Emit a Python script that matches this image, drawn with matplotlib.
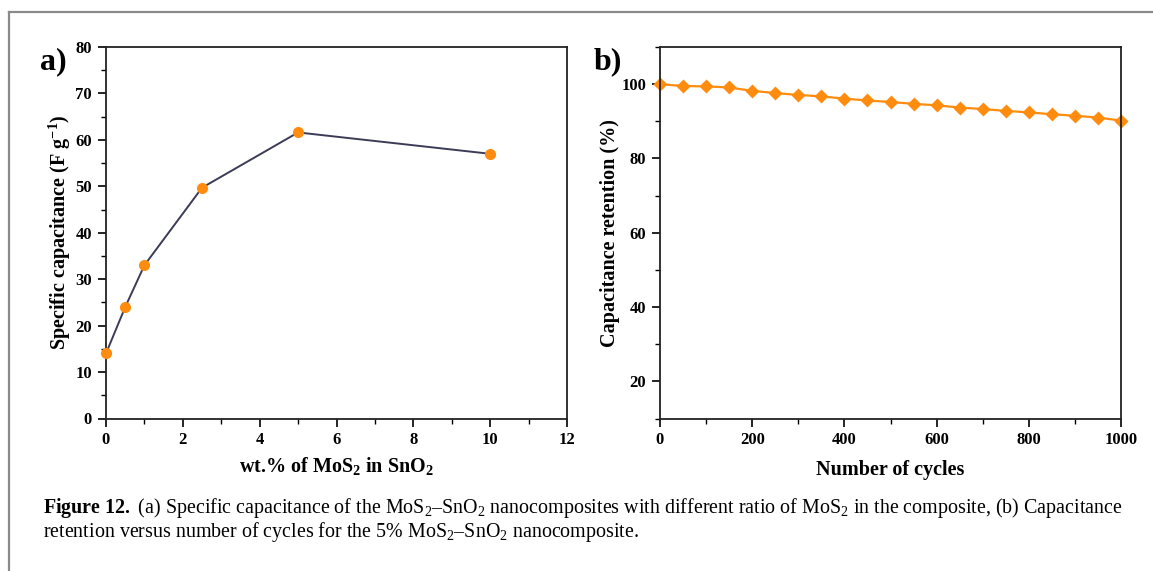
import matplotlib
matplotlib.use("Agg")
import matplotlib.pyplot as plt
from matplotlib.lines import Line2D
from matplotlib.ticker import MultipleLocator

plt.rcParams['font.family'] = 'Liberation Serif'
plt.rcParams['font.weight'] = 'bold'
plt.rcParams['mathtext.fontset'] = 'custom'
plt.rcParams['mathtext.rm'] = 'Liberation Serif:weight=normal'
plt.rcParams['mathtext.bf'] = 'Liberation Serif:weight=bold'
plt.rcParams['mathtext.it'] = 'Liberation Serif:italic'

# (a) specific capacitance vs MoS2 loading
wt_mos2 = [0, 0.5, 1, 2.5, 5, 10]
spec_cap = [14, 24, 33, 49.7, 61.6, 57]

# (b) capacitance retention vs cycles
cycles = [0, 50, 100, 150, 200, 250, 300, 350, 400, 450, 500,
          550, 600, 650, 700, 750, 800, 850, 900, 950, 1000]
retention = [100, 99.5, 99.4, 99.1, 98.2, 97.6, 97.1, 96.7, 96.1, 95.6, 95.2,
             94.7, 94.3, 93.7, 93.3, 92.8, 92.4, 91.9, 91.5, 91.0, 90.2]

orange = '#ff8c0f'
navy = '#3b3b58'

fig = plt.figure(figsize=(11.53, 5.71), dpi=100)

# page frame (top and left edges)
fig.add_artist(Line2D([9/1153, 9/1153], [0, 1 - 12/571], color='#8a8a8a', lw=1.6, transform=fig.transFigure))
fig.add_artist(Line2D([9/1153, 1], [1 - 12/571, 1 - 12/571], color='#8a8a8a', lw=1.6, transform=fig.transFigure))

ax1 = fig.add_axes([106/1153, 1 - 418.5/571, 461/1153, 371.5/571])
ax2 = fig.add_axes([660/1153, 1 - 418.5/571, 461/1153, 371.5/571])


def style(ax):
    for s in ax.spines.values():
        s.set_linewidth(1.3)
        s.set_color('#222222')
    ax.tick_params(which='major', direction='out', length=6, width=1.2, labelsize=12, pad=4)
    ax.tick_params(which='minor', direction='out', length=3.5, width=1.0)
    ax.tick_params(top=False, right=False, which='both')
    for lab in ax.get_xticklabels() + ax.get_yticklabels():
        lab.set_fontweight('bold')


ax1.plot(wt_mos2, spec_cap, color=navy, lw=1.4, zorder=2)
ax1.plot(wt_mos2, spec_cap, 'o', color=orange, ms=8, mec='none', zorder=3, clip_on=False)
ax1.set_xlim(0, 12)
ax1.set_ylim(0, 80)
ax1.xaxis.set_major_locator(MultipleLocator(2))
ax1.xaxis.set_minor_locator(MultipleLocator(1))
ax1.yaxis.set_major_locator(MultipleLocator(10))
ax1.yaxis.set_minor_locator(MultipleLocator(5))
style(ax1)
ax1.set_xlabel(r'wt.% of MoS$_{\mathbf{2}}$ in SnO$_{\mathbf{2}}$', fontsize=14.5, fontweight='bold', labelpad=5)
ax1.set_ylabel(r'Specific capacitance (F g$^{\mathbf{-1}}$)', fontsize=14.5, fontweight='bold', labelpad=2)

ax2.plot(cycles, retention, '-D', color=orange, lw=1.6, ms=7.5, mec='none', clip_on=False)
ax2.set_xlim(0, 1000)
ax2.set_ylim(10, 110)
ax2.xaxis.set_major_locator(MultipleLocator(200))
ax2.xaxis.set_minor_locator(MultipleLocator(100))
ax2.yaxis.set_major_locator(MultipleLocator(20))
ax2.yaxis.set_minor_locator(MultipleLocator(10))
style(ax2)
ax2.set_xlabel('Number of cycles', fontsize=14.5, fontweight='bold', labelpad=8)
ax2.set_ylabel('Capacitance retention (%)', fontsize=14.5, fontweight='bold', labelpad=1)

fig.text(40/1153, 1 - 62/571, 'a)', fontsize=23, fontweight='bold', va='center', ha='left')
fig.text(594/1153, 1 - 62/571, 'b)', fontsize=23, fontweight='bold', va='center', ha='left')

line1 = (r'$\mathbf{Figure\ 12.}$ (a) Specific capacitance of the MoS$_\mathrm{2}$–SnO$_\mathrm{2}$ '
         r'nanocomposites with different ratio of MoS$_\mathrm{2}$ in the composite, (b) Capacitance')
line2 = r'retention versus number of cycles for the 5% MoS$_\mathrm{2}$–SnO$_\mathrm{2}$ nanocomposite.'
fig.text(43/1153, 1 - 508/571, line1, fontsize=14.4, fontweight='normal', va='center', ha='left')
fig.text(43/1153, 1 - 532/571, line2, fontsize=14.4, fontweight='normal', va='center', ha='left')

fig.savefig('out.png', dpi=100)
